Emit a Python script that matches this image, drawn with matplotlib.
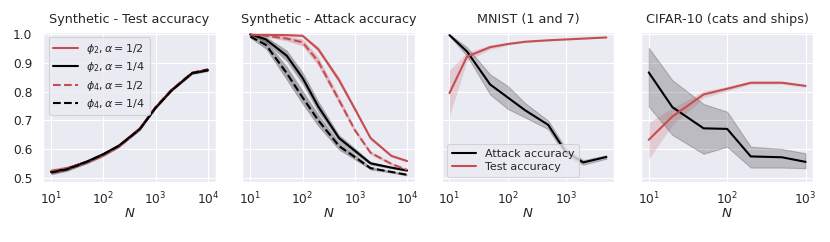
import matplotlib
matplotlib.use("Agg")
import matplotlib.pyplot as plt
import seaborn as sns
import numpy as np

sns.set_theme(style="darkgrid", context="paper")
plt.rcParams['font.family'] = ['DejaVu Sans']
plt.rcParams['xtick.major.pad'] = 1.3
plt.rcParams['ytick.major.pad'] = 3.0

RED = "#C44E52"

# synthetic experiments
N_syn = [10, 20, 50, 100, 200, 500, 1000, 2000, 5000, 10000]
test_syn = {
    "p2_a2": [0.522, 0.532, 0.556, 0.580, 0.610, 0.672, 0.745, 0.805, 0.865, 0.877],
    "p2_a4": [0.520, 0.530, 0.557, 0.582, 0.612, 0.670, 0.743, 0.804, 0.864, 0.874],
    "p4_a2": [0.523, 0.533, 0.555, 0.579, 0.609, 0.671, 0.746, 0.806, 0.866, 0.878],
    "p4_a4": [0.518, 0.529, 0.556, 0.581, 0.611, 0.669, 0.744, 0.803, 0.865, 0.876],
}
test_syn_sd = [0.008, 0.007, 0.006, 0.006, 0.005, 0.005, 0.004, 0.004, 0.004, 0.004]
att_syn = {
    "p2_a2": [0.998, 0.998, 0.997, 0.995, 0.948, 0.840, 0.740, 0.638, 0.576, 0.558],
    "p2_a4": [1.000, 0.982, 0.925, 0.848, 0.748, 0.638, 0.594, 0.550, 0.535, 0.525],
    "p4_a2": [0.999, 0.995, 0.985, 0.972, 0.905, 0.770, 0.666, 0.587, 0.548, 0.527],
    "p4_a4": [0.992, 0.963, 0.864, 0.780, 0.700, 0.610, 0.572, 0.533, 0.520, 0.510],
}
att_syn_sd = {
    "p2_a2": [0.002, 0.002, 0.003, 0.004, 0.008, 0.010, 0.008, 0.006, 0.004, 0.004],
    "p2_a4": [0.004, 0.010, 0.020, 0.022, 0.020, 0.012, 0.010, 0.006, 0.004, 0.004],
    "p4_a2": [0.002, 0.004, 0.008, 0.012, 0.015, 0.012, 0.008, 0.006, 0.004, 0.004],
    "p4_a4": [0.006, 0.015, 0.025, 0.025, 0.022, 0.014, 0.010, 0.006, 0.004, 0.004],
}

# MNIST (1 and 7)
N_mnist = [10, 20, 50, 100, 200, 500, 1000, 2000, 5000]
att_mnist = [0.997, 0.940, 0.825, 0.780, 0.735, 0.684, 0.590, 0.553, 0.572]
att_mnist_sd = [0.003, 0.015, 0.035, 0.040, 0.025, 0.015, 0.012, 0.008, 0.006]
test_mnist = [0.795, 0.922, 0.955, 0.966, 0.974, 0.979, 0.982, 0.985, 0.989]
test_mnist_sd = [0.080, 0.015, 0.008, 0.004, 0.003, 0.002, 0.002, 0.002, 0.002]

# CIFAR-10 (cats and ships)
N_cifar = [10, 20, 50, 100, 200, 500, 1000]
att_cifar = [0.867, 0.746, 0.672, 0.670, 0.574, 0.571, 0.555]
att_cifar_lo = [0.748, 0.649, 0.583, 0.608, 0.535, 0.535, 0.533]
att_cifar_hi = [0.953, 0.840, 0.757, 0.730, 0.608, 0.600, 0.585]
test_cifar = [0.632, 0.713, 0.790, 0.810, 0.831, 0.831, 0.820]
test_cifar_lo = [0.565, 0.683, 0.778, 0.802, 0.826, 0.826, 0.815]
test_cifar_hi = [0.692, 0.743, 0.802, 0.818, 0.836, 0.836, 0.825]

styles = {
    "p2_a2": (RED, "-", r"$\phi_2, \alpha=1/2$"),
    "p2_a4": ("black", "-", r"$\phi_2, \alpha=1/4$"),
    "p4_a2": (RED, "--", r"$\phi_4, \alpha=1/2$"),
    "p4_a4": ("black", "--", r"$\phi_4, \alpha=1/4$"),
}

fig, axes = plt.subplots(1, 4, figsize=(8.3, 2.42), dpi=100, sharey=True)
fig.subplots_adjust(left=0.052, right=0.98, top=0.869, bottom=0.247, wspace=0.155)

ax = axes[0]
for k, (c, ls, lab) in styles.items():
    y = np.array(test_syn[k])
    sd = np.array(test_syn_sd)
    ax.plot(N_syn, y, color=c, ls=ls, lw=1.5, label=lab)
    ax.fill_between(N_syn, y - sd, y + sd, color=c, alpha=0.25, lw=0)
ax.legend(loc="upper left", fontsize=8, labelspacing=0.4, handlelength=2.2)
ax.set_title("Synthetic - Test accuracy", fontsize=9.2)

ax = axes[1]
for k, (c, ls, lab) in styles.items():
    y = np.array(att_syn[k])
    sd = np.array(att_syn_sd[k])
    ax.plot(N_syn, y, color=c, ls=ls, lw=1.5, label=lab)
    ax.fill_between(N_syn, y - sd, y + sd, color=c, alpha=0.3, lw=0)
ax.set_title("Synthetic - Attack accuracy", fontsize=9.2)

ax = axes[2]
y = np.array(att_mnist); sd = np.array(att_mnist_sd)
ax.plot(N_mnist, y, color="black", lw=1.5, label="Attack accuracy")
ax.fill_between(N_mnist, y - sd, y + sd, color="black", alpha=0.2, lw=0.8)
y = np.array(test_mnist); sd = np.array(test_mnist_sd)
ax.plot(N_mnist, y, color=RED, lw=1.5, label="Test accuracy")
ax.fill_between(N_mnist, y - sd, y + sd, color=RED, alpha=0.2, lw=0)
ax.legend(loc="lower left", fontsize=8, labelspacing=0.3, handlelength=2.2)
ax.set_title("MNIST (1 and 7)", fontsize=9.2)

ax = axes[3]
ax.plot(N_cifar, att_cifar, color="black", lw=1.5)
ax.fill_between(N_cifar, att_cifar_lo, att_cifar_hi, color="black", alpha=0.2, lw=0.8)
ax.plot(N_cifar, test_cifar, color=RED, lw=1.5)
ax.fill_between(N_cifar, test_cifar_lo, test_cifar_hi, color=RED, alpha=0.2, lw=0)
ax.set_title("CIFAR-10 (cats and ships)", fontsize=9.2)

for ax in axes:
    ax.set_xscale("log")
    ax.set_xlabel("$N$", fontsize=9.5, labelpad=-0.5)
axes[0].set_ylim(0.484, 1.009)
axes[0].set_yticks([0.5, 0.6, 0.7, 0.8, 0.9, 1.0])

fig.savefig("out.png", dpi=100)
